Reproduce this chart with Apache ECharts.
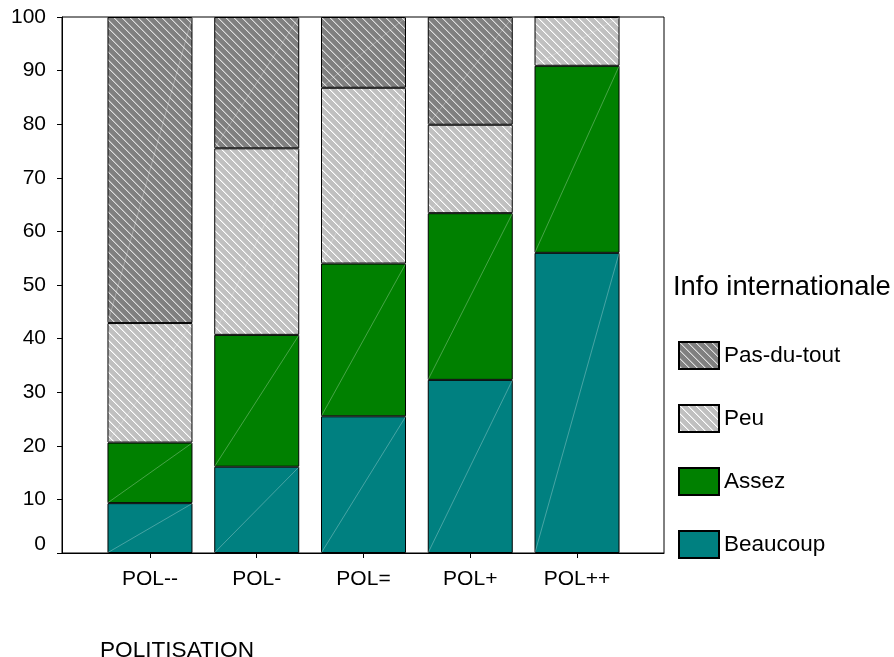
<!DOCTYPE html>
<html>
<head>
<meta charset="utf-8">
<script src="https://cdn.jsdelivr.net/npm/echarts@6/dist/echarts.min.js"></script>
<style>html,body{margin:0;padding:0;background:#fff}#c{width:894px;height:657px}</style>
</head>
<body>
<div id="c"></div>
<script>
const categories = ['POL--', 'POL-', 'POL=', 'POL+', 'POL++'];
const beaucoup = [9.3, 16.1, 25.5, 32.3, 56.0];
const assez = [11.3, 24.6, 28.5, 31.1, 34.9];
const peu = [22.3, 34.8, 32.8, 16.5, 9.1];
const pasDuTout = [57.1, 24.5, 13.2, 20.1, 0];
const yTicks = [0, 10, 20, 30, 40, 50, 60, 70, 80, 90, 100];
const legendTitle = 'Info internationale';
const xTitle = 'POLITISATION';

const FONT = 'Liberation Sans, Arial, sans-serif';
const BAR_W = 85;

function hatch(bg, line, soft) {
  const n = 8;
  const c = document.createElement('canvas');
  c.width = n; c.height = n;
  const g = c.getContext('2d');
  g.fillStyle = bg; g.fillRect(0, 0, n, n);
  for (let i = 0; i < n; i++) {
    g.fillStyle = soft; g.fillRect((i + 1) % n, i, 1, 1);
    g.fillStyle = line; g.fillRect(i, i, 1, 1);
  }
  return c;
}
const darkPat = { image: hatch('#808080', '#dcdcdc', '#a8a8a8'), repeat: 'repeat' };
const lightPat = { image: hatch('#c0c0c0', '#ffffff', '#dadada'), repeat: 'repeat' };

const seriesDefs = [
  { name: 'Beaucoup', data: beaucoup, color: '#008080' },
  { name: 'Assez', data: assez, color: '#008000' },
  { name: 'Peu', data: peu, color: lightPat },
  { name: 'Pas-du-tout', data: pasDuTout, color: darkPat }
];

// segments [categoryIndex, bottom, top] for the faint diagonal of each block
const segs = [];
const cum = categories.map(() => 0);
seriesDefs.forEach(s => {
  s.data.forEach((v, i) => {
    if (v > 0) segs.push([i, cum[i], cum[i] + v]);
    cum[i] += v;
  });
});

const chart = echarts.init(document.getElementById('c'), null, { renderer: 'canvas' });
chart.setOption({
  animation: false,
  backgroundColor: '#ffffff',
  title: [
    { text: legendTitle, left: 673, top: 274, padding: 0, textStyle: { fontSize: 27.4, fontWeight: 'normal', color: '#000', fontFamily: FONT } },
    { text: xTitle, left: 100, top: 639, padding: 0, textStyle: { fontSize: 22.6, fontWeight: 'normal', color: '#000', fontFamily: FONT } }
  ],
  legend: {
    orient: 'vertical',
    left: 678,
    top: 341,
    padding: 0,
    itemWidth: 40,
    itemHeight: 27,
    itemGap: 34,
    data: ['Pas-du-tout', 'Peu', 'Assez', 'Beaucoup'],
    textStyle: { fontSize: 22.5, color: '#000', fontFamily: FONT },
    icon: 'rect'
  },
  grid: [
    { left: 62, right: 230, top: 17, bottom: 104, show: true, borderColor: '#000', borderWidth: 1, backgroundColor: 'transparent' },
    { left: 96.6, right: 263.6, top: 17, bottom: 104 }
  ],
  xAxis: [
    {
      gridIndex: 0, type: 'value', min: 0, max: 1,
      splitLine: { show: false },
      axisLine: { show: true, lineStyle: { color: '#000', width: 1 } },
      axisTick: { show: false },
      axisLabel: { show: false }
    },
    {
      gridIndex: 1, type: 'category', data: categories,
      axisLine: { show: false },
      axisTick: { show: true, alignWithLabel: true, length: 5, lineStyle: { color: '#000' } },
      axisLabel: { fontSize: 21, color: '#000', fontFamily: FONT, margin: 16, interval: 0 }
    }
  ],
  yAxis: [
    {
      gridIndex: 0, type: 'value', min: 0, max: 100, interval: 10,
      splitLine: { show: false },
      axisLine: { show: true, onZero: false, lineStyle: { color: '#000', width: 1 } },
      axisTick: { show: true, length: 5, lineStyle: { color: '#000' } },
      axisLabel: {
        formatter: v => (v === 0 ? '{z|0}' : String(v)),
        rich: { z: { fontSize: 21, color: '#000', fontFamily: FONT, padding: [0, 0, 18, 0] } },
        fontSize: 21, color: '#000', fontFamily: FONT, margin: 16
      }
    },
    {
      gridIndex: 1, type: 'value', min: 0, max: 100, show: false,
      splitLine: { show: false }
    }
  ],
  series: seriesDefs.map(s => ({
    name: s.name,
    type: 'bar',
    stack: 'total',
    xAxisIndex: 1,
    yAxisIndex: 1,
    barWidth: BAR_W,
    data: s.data,
    itemStyle: { color: s.color, borderColor: '#000', borderWidth: 1 },
    emphasis: { disabled: true }
  })).concat([{
    name: 'diag',
    type: 'custom',
    xAxisIndex: 1,
    yAxisIndex: 1,
    silent: true,
    z: 3,
    data: segs,
    renderItem: function (params, api) {
      const c = api.value(0);
      const p0 = api.coord([c, api.value(1)]);
      const p1 = api.coord([c, api.value(2)]);
      const h = BAR_W / 2;
      return {
        type: 'line',
        shape: { x1: p0[0] - h + 0.5, y1: p0[1] - 0.5, x2: p1[0] + h - 0.5, y2: p1[1] + 0.5 },
        style: { stroke: 'rgba(255,255,255,0.28)', lineWidth: 1 }
      };
    }
  }])
});
</script>
</body>
</html>
